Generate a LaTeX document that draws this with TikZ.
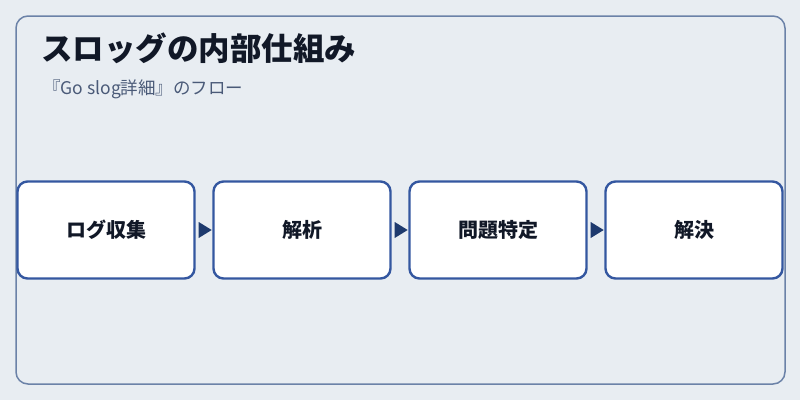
\documentclass[tikz,border=0pt]{standalone}
\usepackage{fontspec}
\setmainfont{Noto Sans CJK JP}
\usetikzlibrary{positioning}
\definecolor{bgcol}{HTML}{E8EDF2}
\definecolor{framecol}{HTML}{6B82A8}
\definecolor{boxcol}{HTML}{3457A0}
\definecolor{arrowcol}{HTML}{1E3A6E}
\definecolor{titlecol}{HTML}{111827}
\definecolor{subcol}{HTML}{4A5A78}

\begin{document}
\begin{tikzpicture}[x=1pt, y=-1pt,
  stage/.style={rectangle, rounded corners=10pt, draw=boxcol, line width=2.4pt, fill=white,
    minimum width=177pt, minimum height=97pt, font=\fontsize{20pt}{22pt}\selectfont\bfseries, text=titlecol},
  tip/.style={fill=arrowcol}]
  \fill[bgcol] (0,0) rectangle (800,400);
  \useasboundingbox (0,0) rectangle (800,400);
  \draw[framecol, line width=1.5pt, rounded corners=12pt] (16,16) rectangle (785,384);
  \node[anchor=west, inner sep=0pt, text=titlecol, font=\fontsize{31.5pt}{33pt}\selectfont\bfseries] (title) at (41,48) {スロッグの内部仕組み};
  \node[anchor=west, inner sep=0pt, text=subcol, font=\fontsize{17.5pt}{20pt}\selectfont] (sub) at (43,89) {『Go slog詳細』のフロー};
  \node[stage] (1) at (106,230) {ログ収集};
  \node[stage] (2) at (302,230) {解析};
  \node[stage] (3) at (498,230) {問題特定};
  \node[stage] (4) at (694,230) {解決};
  \foreach \a/\b in {1/2, 2/3, 3/4} {
    \fill[tip] ([xshift=3pt]\a.east) ++(0,-8) -- ++(13,8) -- ++(-13,8) -- cycle;
  }
\end{tikzpicture}
\end{document}
